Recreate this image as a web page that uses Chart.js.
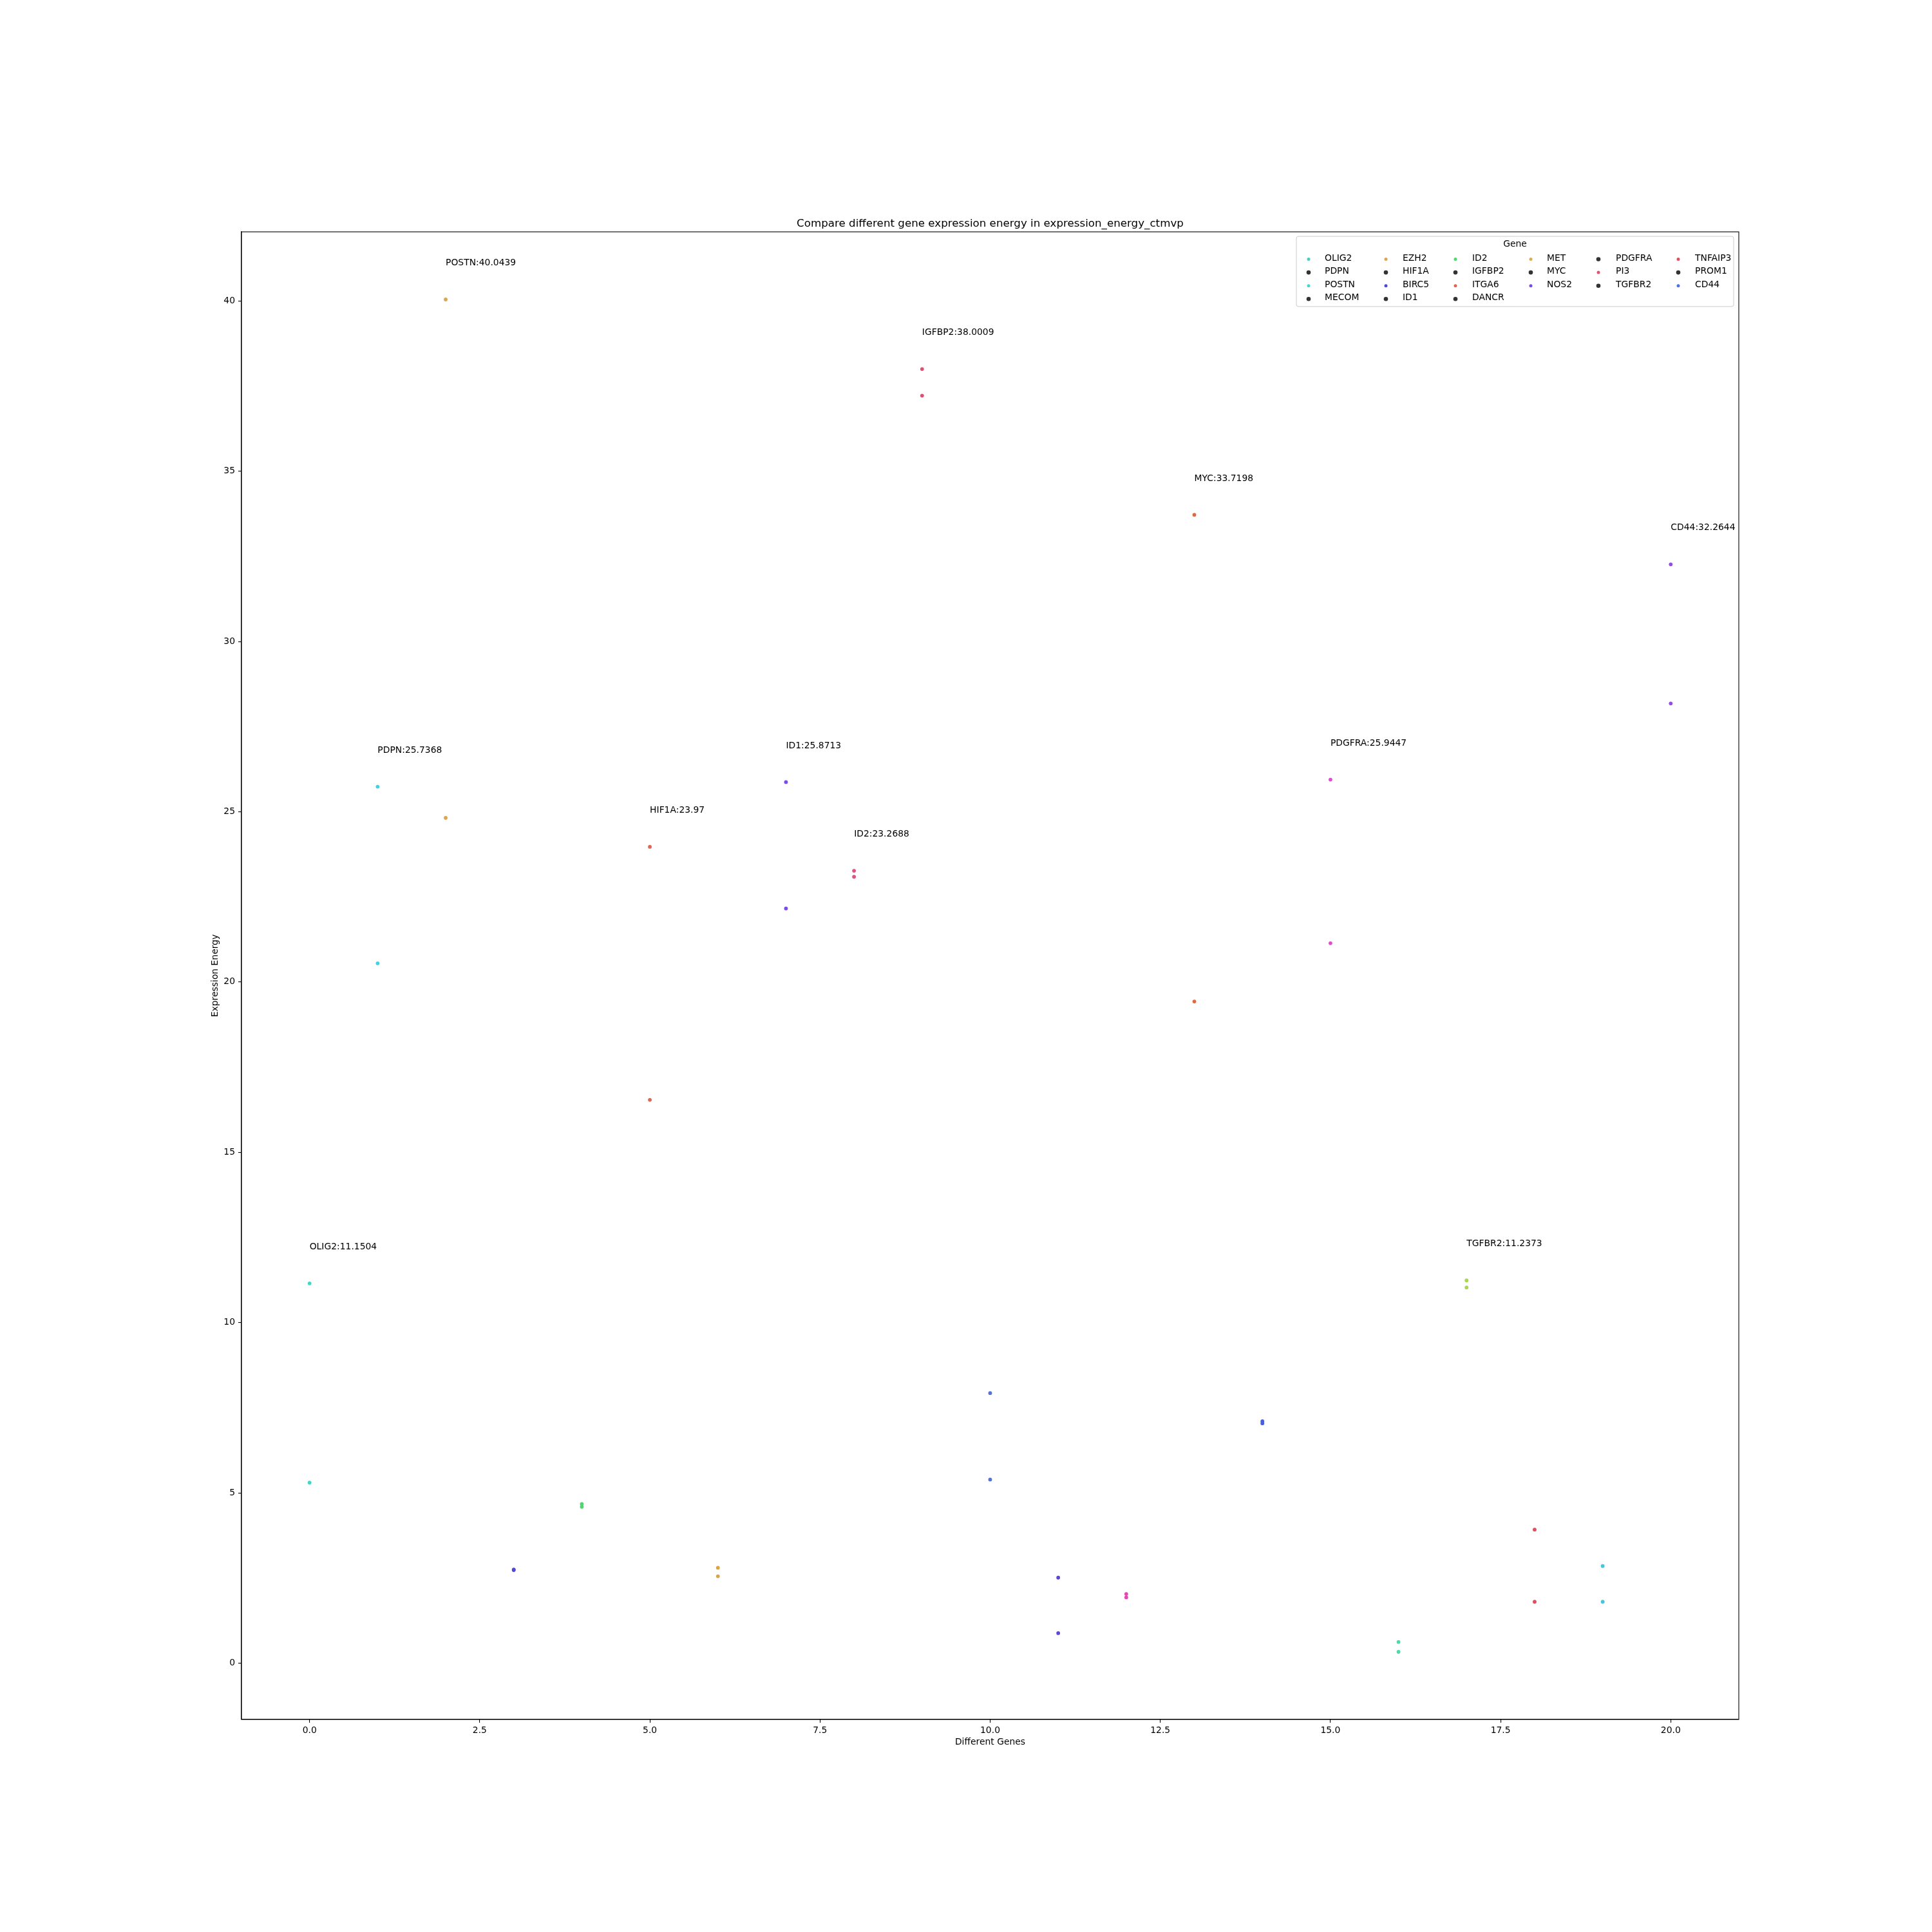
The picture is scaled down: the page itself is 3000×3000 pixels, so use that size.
<!DOCTYPE html>
<html>
<head>
<meta charset="utf-8">
<script src="https://cdn.jsdelivr.net/npm/chart.js@4.4.1/dist/chart.umd.min.js"></script>
<style>
  html, body { margin: 0; padding: 0; background: #ffffff; }
  #wrap { width: 3000px; height: 3000px; }
</style>
</head>
<body>
<div id="wrap"><canvas id="c" width="3000" height="3000"></canvas></div>
<script>
// ---------------- DATA ----------------
const genes = ["OLIG2","PDPN","POSTN","MECOM","EZH2","HIF1A","BIRC5","ID1","ID2","IGFBP2","ITGA6",
               "DANCR","MET","MYC","NOS2","PDGFRA","PI3","TGFBR2","TNFAIP3","PROM1","CD44"];
const energyA = [11.1504, 25.7368, 40.0439, 2.75, 4.67, 23.97, 2.80, 25.8713, 23.2688, 38.0009, 7.93,
                 2.51, 2.03, 33.7198, 7.10, 25.9447, 0.62, 11.2373, 3.92, 2.85, 32.2644];
const energyB = [5.30, 20.55, 24.82, 2.73, 4.59, 16.54, 2.55, 22.16, 23.09, 37.22, 5.39,
                 0.88, 1.93, 19.43, 7.04, 21.14, 0.33, 11.03, 1.80, 1.80, 28.18];
const pointColors = ["#45d6c2","#45d2de","#dba653","#5048d8","#4cd86c","#e06650","#d8a64a","#7a4fdf",
                     "#e05282","#e04e72","#4f73e0","#5b46dd","#e04ab4","#e2683f","#4a5fdc","#dc50cc",
                     "#48dca8","#a8d84c","#e04e60","#48c4dc","#9150dc"];
const legendColors = ["#45d1bf","#333333","#48d4dc","#333333","#dba653","#333333","#5048d8","#333333",
                      "#4cd86c","#333333","#e06650","#333333","#dbad55","#333333","#7a4fdf","#333333",
                      "#e05275","#333333","#e04e60","#333333","#4f73e0"];
const xTicks = [0, 2.5, 5, 7.5, 10, 12.5, 15, 17.5, 20];
const yTicks = [0, 5, 10, 15, 20, 25, 30, 35, 40];
const annotateThreshold = 10;
const chartTitle = "Compare different gene expression energy in expression_energy_ctmvp";
const xTitle = "Different Genes";
const yTitle = "Expression Energy";
const legendTitle = "Gene";

// ---------------- SCALE LIMITS (matplotlib-like 5% margins) ----------------
const allY = energyA.concat(energyB);
const yMinD = Math.min(...allY), yMaxD = Math.max(...allY);
const xMinD = 0, xMaxD = genes.length - 1;
const yPad = (yMaxD - yMinD) * 0.05, xPad = (xMaxD - xMinD) * 0.05;

const FONT = "'DejaVu Sans', 'Liberation Sans', sans-serif";

const datasets = genes.map((g, i) => ({
  label: g,
  data: [{x: i, y: energyA[i]}, {x: i, y: energyB[i]}],
  backgroundColor: pointColors[i],
  borderColor: pointColors[i],
  borderWidth: 0,
  pointRadius: 2.9,
  pointHoverRadius: 2.9
}));

function fmt(v) { return parseFloat(v.toFixed(4)).toString(); }

const decor = {
  id: 'decor',
  afterDraw(chart) {
    const ctx = chart.ctx;
    const a = chart.chartArea;
    const xs = chart.scales.x, ys = chart.scales.y;
    ctx.save();
    // frame
    ctx.strokeStyle = '#000';
    ctx.lineWidth = 1.1;
    ctx.strokeRect(a.left, a.top, a.right - a.left, a.bottom - a.top);

    // title
    ctx.fillStyle = '#000';
    ctx.font = "16.7px " + FONT;
    ctx.textAlign = 'center';
    ctx.textBaseline = 'alphabetic';
    ctx.fillText(chartTitle, (a.left + a.right) / 2, a.top - 8.3);

    // axis titles
    ctx.font = "13.9px " + FONT;
    ctx.textBaseline = 'middle';
    ctx.fillText(xTitle, (a.left + a.right) / 2, a.bottom + 35);
    ctx.save();
    ctx.translate(a.left - 41, (a.top + a.bottom) / 2);
    ctx.rotate(-Math.PI / 2);
    ctx.fillText(yTitle, 0, 0);
    ctx.restore();

    // annotations
    ctx.textAlign = 'left';
    ctx.textBaseline = 'alphabetic';
    genes.forEach((g, i) => {
      const m = Math.max(energyA[i], energyB[i]);
      if (m > annotateThreshold) {
        ctx.fillText(g + ":" + fmt(m), xs.getPixelForValue(i), ys.getPixelForValue(m + 1));
      }
    });

    // legend
    const boxL = a.right - 687, boxR = a.right - 8, boxT = a.top + 7, boxB = a.top + 116;
    ctx.beginPath();
    ctx.roundRect(boxL, boxT, boxR - boxL, boxB - boxT, 3);
    ctx.fillStyle = 'rgba(255,255,255,0.8)';
    ctx.fill();
    ctx.strokeStyle = '#cccccc';
    ctx.lineWidth = 1;
    ctx.stroke();

    ctx.fillStyle = '#000';
    ctx.textAlign = 'center';
    ctx.textBaseline = 'middle';
    ctx.fillText(legendTitle, (boxL + boxR) / 2, boxT + 12);

    const colMarkerOff = [19, 139, 247, 364, 469, 593];
    const colTextOff = [44, 165, 273, 389, 496, 619];
    const perCol = [4, 4, 4, 3, 3, 3];
    const rowY0 = boxT + 34, rowDy = 20.6;
    let idx = 0;
    ctx.textAlign = 'left';
    for (let c = 0; c < perCol.length; c++) {
      for (let r = 0; r < perCol[c]; r++) {
        if (idx >= genes.length) break;
        const y = rowY0 + r * rowDy;
        const col = legendColors[idx];
        ctx.beginPath();
        ctx.arc(boxL + colMarkerOff[c], y + 1.5, col === "#333333" ? 3.3 : 2.5, 0, Math.PI * 2);
        ctx.fillStyle = col;
        ctx.fill();
        ctx.fillStyle = '#000';
        ctx.fillText(genes[idx], boxL + colTextOff[c], y);
        idx++;
      }
    }
    ctx.restore();
  }
};

new Chart(document.getElementById('c'), {
  type: 'scatter',
  data: { datasets },
  options: {
    responsive: false,
    devicePixelRatio: 1,
    animation: false,
    events: [],
    layout: { padding: { top: 360, right: 300, bottom: 0, left: 0 } },
    plugins: { legend: { display: false }, title: { display: false }, tooltip: { enabled: false } },
    scales: {
      x: {
        type: 'linear',
        position: 'bottom',
        min: xMinD - xPad,
        max: xMaxD + xPad,
        afterFit: (s) => { s.height = 330; },
        afterBuildTicks: (s) => { s.ticks = xTicks.map(v => ({ value: v })); },
        ticks: {
          callback: (v) => Number(v).toFixed(1),
          font: { family: FONT, size: 13.9 },
          color: '#000',
          padding: 4,
          maxRotation: 0,
          autoSkip: false
        },
        grid: { drawOnChartArea: false, drawTicks: true, tickLength: 5, color: '#000', lineWidth: 1.1 },
        border: { display: true, color: '#000', width: 1.1 }
      },
      y: {
        type: 'linear',
        min: yMinD - yPad,
        max: yMaxD + yPad,
        afterFit: (s) => { s.width = 375; },
        afterBuildTicks: (s) => { s.ticks = yTicks.map(v => ({ value: v })); },
        ticks: {
          callback: (v) => String(v),
          font: { family: FONT, size: 13.9 },
          color: '#000',
          padding: 5,
          autoSkip: false
        },
        grid: { drawOnChartArea: false, drawTicks: true, tickLength: 5, color: '#000', lineWidth: 1.1 },
        border: { display: true, color: '#000', width: 1.1 }
      }
    }
  },
  plugins: [decor]
});
</script>
</body>
</html>
